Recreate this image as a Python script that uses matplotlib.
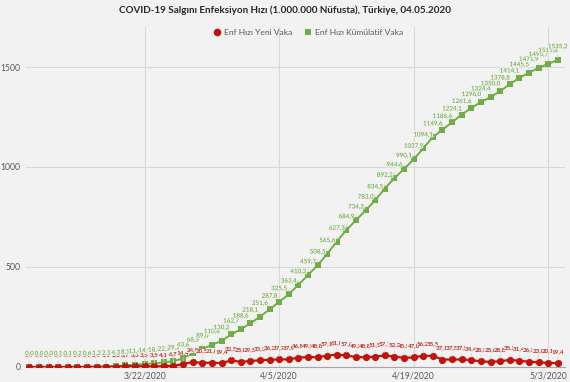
import matplotlib
matplotlib.use('Agg')

import datetime
import matplotlib.pyplot as plt
import matplotlib.dates as mdates
import matplotlib.patheffects as pe
from matplotlib.lines import Line2D

# ---------------------------------------------------------------
# data: infection rate per 1.000.000 people, 3/10/2020 .. 5/4/2020
start = datetime.date(2020, 3, 10)

new_cases = [0.0, 0.0, 0.0, 0.0, 0.0, 0.1, 0.3, 0.6, 1.1, 2.0,
             3.7, 3.3, 3.5, 3.5, 4.1, 6.7, 14.4, 24.9, 20.5, 21.8,
             19.4, 32.5, 25.8, 29.5, 33.5, 36.2, 37.7, 37.9, 46.8, 49.5,
             48.8, 57.1, 61.8, 57.6, 49.2, 48.8, 51.5, 57.7, 52.3, 45.5,
             47.8, 56.2, 55.5, 37.1, 37.5, 37.5, 34.4, 28.3, 25.6, 28.8,
             35.3, 31.4, 26.3, 23.8, 20.1, 19.4]

cumulative = [0.0, 0.0, 0.0, 0.1, 0.1, 0.2, 0.6, 1.2, 2.3, 4.3,
              8.1, 11.4, 14.9, 18.4, 22.5, 29.3, 43.6, 68.5, 89.0, 110.8,
              130.2, 162.7, 188.6, 218.1, 251.6, 287.8, 325.5, 363.4, 410.2, 459.7,
              508.5, 565.6, 627.3, 684.9, 734.2, 783.0, 834.5, 892.2, 944.6, 990.1,
              1037.9, 1094.1, 1149.6, 1186.6, 1224.1, 1261.6, 1296.0, 1324.4, 1350.0, 1378.8,
              1414.1, 1445.5, 1471.9, 1495.7, 1515.8, 1535.2]

tick_dates = [datetime.date(2020, 3, 22), datetime.date(2020, 4, 5),
              datetime.date(2020, 4, 19), datetime.date(2020, 5, 3)]
tick_labels = ['3/22/2020', '4/5/2020', '4/19/2020', '5/3/2020']
y_ticks = [0, 500, 1000, 1500]

title = 'COVID-19 Salgını Enfeksiyon Hızı (1.000.000 Nüfusta), Türkiye, 04.05.2020'
name_new = 'Enf Hızı Yeni Vaka'
name_cum = 'Enf Hızı Kümülatif Vaka'

dates = [start + datetime.timedelta(days=i) for i in range(len(cumulative))]

# ---------------------------------------------------------------
bg = '#f2f2f2'
red = '#c0140a'
green = '#70ad47'
grey_text = '#595959'

plt.rcParams['font.family'] = ['Lato', 'DejaVu Sans']

fig = plt.figure(figsize=(5.7, 3.82), dpi=100, facecolor=bg)
ax = fig.add_axes([0.0456, 0.0393, 0.9456, 0.890], facecolor=bg)


def fmt(v):
    return ('%.1f' % v).replace('.', ',')


def add_labels(values, color, dy, boxed):
    for d, v in zip(dates, values):
        t = ax.annotate(fmt(v), xy=(d, v), xytext=(0, dy), textcoords='offset points',
                        ha='center', va='center', fontsize=4.5, fontweight='semibold',
                        color=color, zorder=5,
                        arrowprops=dict(arrowstyle='-', color='#d6d6d6', lw=0.5,
                                        shrinkA=2, shrinkB=2))
        if boxed:
            # labels cover each other like in the original chart
            t.set_bbox(dict(facecolor=bg, edgecolor='none', pad=0.0))
        else:
            t.set_path_effects([pe.withStroke(linewidth=1.5, foreground=bg)])


# lines
ax.plot(dates, new_cases, color=red, lw=1.6, marker='o', ms=5.2,
        markeredgewidth=0, zorder=4)
ax.plot(dates, cumulative, color=green, lw=1.4, marker='s', ms=3.8,
        markeredgewidth=0, zorder=3)

# data labels (red first, green drawn over it)
add_labels(new_cases, red, 8.5, True)
add_labels(cumulative, green, 9.5, False)

# axes
ax.set_xlim(mdates.date2num(dates[0]) - 0.35, mdates.date2num(dates[-1]) + 0.75)
ax.set_ylim(0, 1700)
ax.set_xticks([mdates.date2num(d) for d in tick_dates])
ax.set_xticklabels(tick_labels)
ax.set_yticks(y_ticks)
ax.set_yticklabels([str(t) for t in y_ticks])
ax.tick_params(axis='both', length=0, labelsize=6.2, labelcolor=grey_text)
ax.tick_params(axis='x', pad=3)
ax.tick_params(axis='y', pad=4)

ax.grid(True, color='#d9d9d9', lw=0.8)
ax.set_axisbelow(True)
for s in ['left', 'right', 'top']:
    ax.spines[s].set_visible(False)
ax.spines['bottom'].set_color('#a6a6a6')
ax.spines['bottom'].set_linewidth(0.8)

# legend
handles = [Line2D([], [], color=red, marker='o', ls='none', ms=5.5, markeredgewidth=0),
           Line2D([], [], color=green, marker='s', ls='none', ms=3.8, markeredgewidth=0)]
leg = ax.legend(handles, [name_new, name_cum], loc='center', ncol=2,
                bbox_to_anchor=(0.523, 0.985), frameon=False, fontsize=6.1,
                handletextpad=0.35, columnspacing=1.3, handlelength=1.0)
for t in leg.get_texts():
    t.set_color(grey_text)

fig.text(0.5, 0.972, title, ha='center', va='center', fontsize=7.1,
         fontweight='bold', color='#262626')

fig.savefig('out.png', dpi=100, facecolor=bg)
